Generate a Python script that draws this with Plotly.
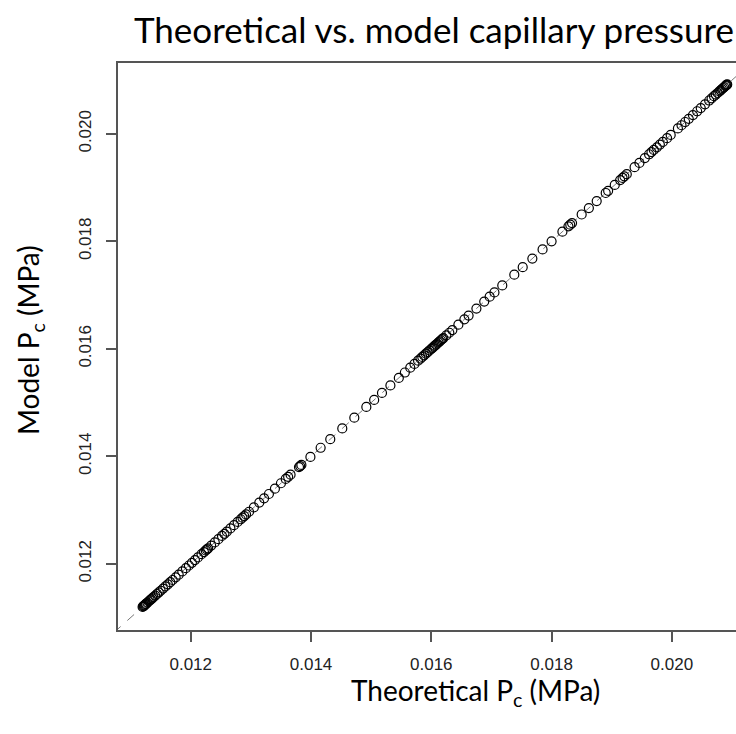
import plotly.graph_objects as go

theoretical = [
    0.01120, 0.01121, 0.01122, 0.01123, 0.01124, 0.01125, 0.01126, 0.01128, 0.01130, 0.01132,
    0.01134, 0.01136, 0.01138, 0.01141, 0.01144, 0.01147, 0.01150, 0.01154, 0.01158, 0.01162,
    0.01166, 0.01170, 0.01175, 0.01180, 0.01186, 0.01192, 0.01197, 0.01202, 0.01207, 0.01212,
    0.01218, 0.01222, 0.01225, 0.01227, 0.01229, 0.01234, 0.01240, 0.01246, 0.01252, 0.01256,
    0.01260, 0.01266, 0.01272, 0.01278, 0.01283, 0.01286, 0.01289, 0.01292, 0.01297, 0.01305,
    0.01314, 0.01322, 0.01330, 0.01340, 0.01350, 0.01358, 0.01362, 0.01366, 0.01380, 0.01382,
    0.01384, 0.01399, 0.01416, 0.01432, 0.01452, 0.01472, 0.01492, 0.01505, 0.01518, 0.01532,
    0.01546, 0.01556, 0.01565, 0.01572, 0.01578, 0.01582, 0.01585, 0.01588, 0.01591, 0.01594,
    0.01597, 0.01600, 0.01602, 0.01604, 0.01606, 0.01608, 0.01610, 0.01612, 0.01614, 0.01616,
    0.01618, 0.01620, 0.01625, 0.01630, 0.01635, 0.01645, 0.01655, 0.01662, 0.01675, 0.01688,
    0.01697, 0.01705, 0.01718, 0.01738, 0.01752, 0.01768, 0.01785, 0.01800, 0.01818, 0.01828,
    0.01831, 0.01834, 0.01850, 0.01862, 0.01875, 0.01890, 0.01894, 0.01905, 0.01914, 0.01918,
    0.01921, 0.01925, 0.01938, 0.01946, 0.01955, 0.01962, 0.01966, 0.01970, 0.01975, 0.01980,
    0.01985, 0.01992, 0.01998, 0.02010, 0.02016, 0.02022, 0.02028, 0.02035, 0.02042, 0.02048,
    0.02055, 0.02062, 0.02066, 0.02070, 0.02073, 0.02076, 0.02079, 0.02081, 0.02083, 0.02085,
    0.02087, 0.02089, 0.02090, 0.02091, 0.02092,
]

model = [
    0.01120, 0.01121, 0.01122, 0.01123, 0.01124, 0.01125, 0.01126, 0.01128, 0.01130, 0.01132,
    0.01134, 0.01136, 0.01138, 0.01141, 0.01144, 0.01147, 0.01150, 0.01154, 0.01158, 0.01162,
    0.01166, 0.01170, 0.01175, 0.01180, 0.01186, 0.01192, 0.01197, 0.01202, 0.01207, 0.01212,
    0.01218, 0.01222, 0.01225, 0.01227, 0.01229, 0.01234, 0.01240, 0.01246, 0.01252, 0.01256,
    0.01260, 0.01266, 0.01272, 0.01278, 0.01283, 0.01286, 0.01289, 0.01292, 0.01297, 0.01305,
    0.01314, 0.01322, 0.01330, 0.01340, 0.01350, 0.01358, 0.01362, 0.01366, 0.01380, 0.01382,
    0.01384, 0.01399, 0.01416, 0.01432, 0.01452, 0.01472, 0.01492, 0.01505, 0.01518, 0.01532,
    0.01546, 0.01556, 0.01565, 0.01572, 0.01578, 0.01582, 0.01585, 0.01588, 0.01591, 0.01594,
    0.01597, 0.01600, 0.01602, 0.01604, 0.01606, 0.01608, 0.01610, 0.01612, 0.01614, 0.01616,
    0.01618, 0.01620, 0.01625, 0.01630, 0.01635, 0.01645, 0.01655, 0.01662, 0.01675, 0.01688,
    0.01697, 0.01705, 0.01718, 0.01738, 0.01752, 0.01768, 0.01785, 0.01800, 0.01818, 0.01828,
    0.01831, 0.01834, 0.01850, 0.01862, 0.01875, 0.01890, 0.01894, 0.01905, 0.01914, 0.01918,
    0.01921, 0.01925, 0.01938, 0.01946, 0.01955, 0.01962, 0.01966, 0.01970, 0.01975, 0.01980,
    0.01985, 0.01992, 0.01998, 0.02010, 0.02016, 0.02022, 0.02028, 0.02035, 0.02042, 0.02048,
    0.02055, 0.02062, 0.02066, 0.02070, 0.02073, 0.02076, 0.02079, 0.02081, 0.02083, 0.02085,
    0.02087, 0.02089, 0.02090, 0.02091, 0.02092,
]

tick_vals = [0.012, 0.014, 0.016, 0.018, 0.020]
tick_text = ["0.012", "0.014", "0.016", "0.018", "0.020"]

x_range = [0.010791, 0.021066]
y_range = [0.01077, 0.021318]

fig = go.Figure()

# identity (1:1) reference line
fig.add_trace(go.Scatter(
    x=[0.0105, 0.0215], y=[0.0105, 0.0215], mode="lines",
    line=dict(color="#777777", width=1, dash="dash"),
    hoverinfo="skip", showlegend=False,
))

fig.add_trace(go.Scatter(
    x=theoretical, y=model, mode="markers",
    marker=dict(symbol="circle-open", size=9, color="black", line=dict(width=1.2, color="black")),
    showlegend=False,
))

axis_common = dict(
    showgrid=False, zeroline=False, showline=True, linecolor="#555555", linewidth=1.5,
    ticks="outside", ticklen=10, tickwidth=1.5, tickcolor="#555555",
    tickvals=tick_vals, ticktext=tick_text,
    tickfont=dict(family="Liberation Sans, Arial", size=17, color="#222222"),
)

fig.update_layout(
    width=736, height=734,
    margin=dict(l=118, r=0, t=63, b=104),
    paper_bgcolor="white", plot_bgcolor="white",
    title=dict(
        text="Theoretical vs. model capillary pressure",
        x=434 / 736, xanchor="center", y=1 - 31 / 734, yanchor="middle",
        font=dict(family="Lato", size=35, color="black"),
    ),
    xaxis=dict(range=x_range, mirror=True, ticklabelstandoff=8, **axis_common),
    yaxis=dict(range=y_range, mirror=False, tickangle=-90, ticklabelstandoff=8, **axis_common),
    annotations=[
        dict(text="Theoretical P<sub>c</sub> (MPa)", xref="paper", yref="paper",
             x=(475 - 118) / 618, y=(630 - 671) / 567, xanchor="center", yanchor="top",
             showarrow=False, font=dict(family="Lato", size=28, color="black")),
        dict(text="Model P<sub>c</sub> (MPa)", xref="paper", yref="paper",
             x=(30 - 118) / 618, y=(630 - 340) / 567, xanchor="center", yanchor="middle",
             textangle=-90, showarrow=False, font=dict(family="Lato", size=28, color="black")),
    ],
)

fig.write_html("out.html")
